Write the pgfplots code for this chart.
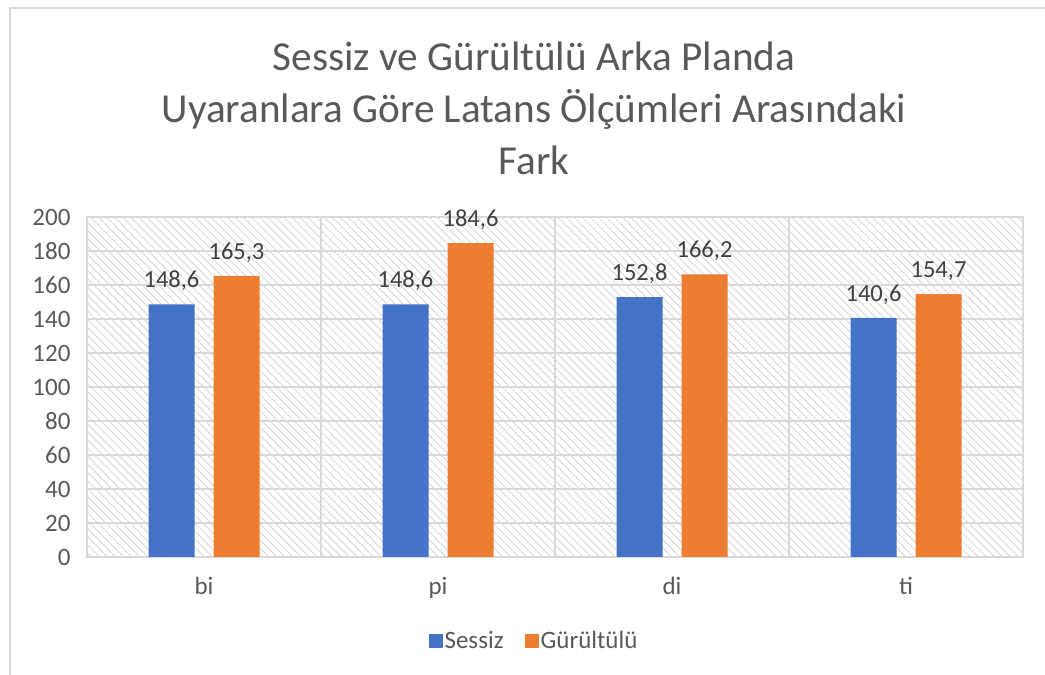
\documentclass[border=0pt]{standalone}
\usepackage{pgfplots}
\pgfplotsset{compat=1.18}
\usetikzlibrary{patterns.meta}
\usepackage{fontspec}
\setmainfont{Carlito}
\definecolor{tgray}{HTML}{595959}
\definecolor{lgray}{HTML}{404040}
\definecolor{gridc}{HTML}{D9D9D9}
\definecolor{hatchc}{HTML}{D6D6D6}
\definecolor{sblue}{HTML}{4472C4}
\definecolor{sorange}{HTML}{ED7D31}
\begin{document}
\begin{tikzpicture}[x=1pt,y=1pt]
\path[use as bounding box] (0,0) rectangle (1045,675);
\draw[gridc, line width=1.5pt] (10,0) -- (10,667) -- (1045,667);
\node[text=tgray, font=\fontsize{41.2}{52}\selectfont, align=center] at (534,567) {Sessiz ve Gürültülü Arka Planda\\Uyaranlara Göre Latans Ölçümleri Arasındaki\\Fark};
\begin{axis}[
  at={(87pt,118pt)}, anchor=south west,
  scale only axis, width=936pt, height=340pt,
  ymin=0, ymax=200, ytick={0,20,...,200},
  xmin=-0.5, xmax=3.5, xtick={0,1,2,3}, xticklabels={bi,pi,di,ti},
  minor xtick={0.5,1.5,2.5},
  ymajorgrids, xminorgrids,
  grid style={gridc, line width=1.5pt},
  minor grid style={gridc, line width=1.5pt},
  axis line style={gridc, line width=1.5pt},
  major tick length=0pt, minor tick length=0pt,
  axis background/.style={pattern={Lines[angle=-45,distance=5.7pt,line width=0.85pt]}, pattern color=hatchc},
  ybar=19pt, bar width=46pt,
  /pgf/number format/assume math mode=true,
  ticklabel style={font=\fontsize{25}{30}\selectfont, text=tgray},
  yticklabel style={xshift=-13pt},
  xticklabel style={yshift=-17pt},
  nodes near coords={\pgfmathprintnumber[fixed, fixed zerofill, precision=1, use comma, assume math mode=true]{\pgfplotspointmeta}},
  every node near coord/.append style={font=\fontsize{24.5}{29}\selectfont, text=lgray, yshift=10pt},
  legend style={at={(0.4776,-0.247)}, anchor=center, draw=none, fill=none, legend columns=2,
    font=\fontsize{25}{30}\selectfont, text=tgray,
    /tikz/every even column/.append style={column sep=19pt}},
  legend image code/.code={\fill[#1,draw=none] (0pt,-7pt) rectangle (14pt,7pt);},
  clip=false,
]
\addplot[fill=sblue, draw=none] coordinates {(0,148.6) (1,148.6) (2,152.8) (3,140.6)};
\addplot[fill=sorange, draw=none] coordinates {(0,165.3) (1,184.6) (2,166.2) (3,154.7)};
\legend{Sessiz, Gürültülü}
\end{axis}
\end{tikzpicture}
\end{document}
